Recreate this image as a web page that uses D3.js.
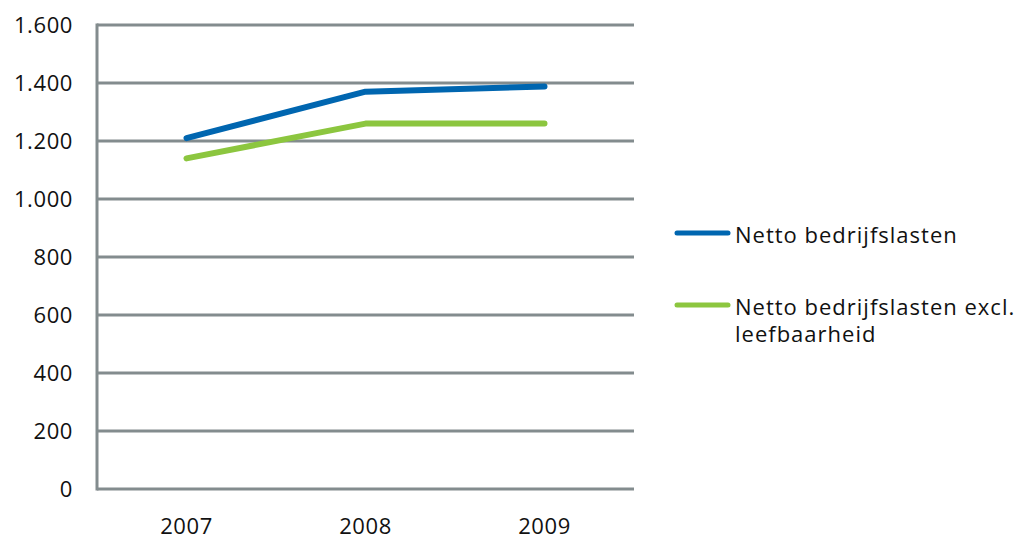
<!DOCTYPE html>
<html>
<head>
<meta charset="utf-8">
<script src="https://cdn.jsdelivr.net/npm/d3@7"></script>
<style>
  body { margin: 0; background: #fff; }
  text { font-family: "Open Sans", sans-serif; fill: #111; }
</style>
</head>
<body>
<svg id="chart" width="1016" height="537"></svg>
<script>
const years = ["2007", "2008", "2009"];
const nettoBedrijfslasten = [1210, 1370, 1388];
const nettoExclLeefbaarheid = [1140, 1260, 1260];
const yTicks = [0, 200, 400, 600, 800, 1000, 1200, 1400, 1600];
const seriesColors = ["#0066b0", "#8cc63f"];

const margin = { top: 25, right: 382, bottom: 48, left: 97 };
const width = 1016 - margin.left - margin.right;
const height = 537 - margin.top - margin.bottom;
const gridColor = "#838c8e";

const svg = d3.select("#chart");
const g = svg.append("g").attr("transform", `translate(${margin.left},${margin.top})`);

const x = d3.scaleBand().domain(years).range([0, width]);
const y = d3.scaleLinear().domain([0, 1600]).range([height, 0]);

// gridlines
g.append("g")
    .selectAll("line")
    .data(yTicks)
    .enter().append("line")
    .attr("x1", 0)
    .attr("x2", width)
    .attr("y1", d => y(d))
    .attr("y2", d => y(d))
    .attr("stroke", gridColor)
    .attr("stroke-width", 3);

// y axis line
g.append("line")
    .attr("x1", 0).attr("x2", 0)
    .attr("y1", y(1600) - 1.5).attr("y2", y(0) + 1.5)
    .attr("stroke", gridColor)
    .attr("stroke-width", 3);

// y tick labels
g.append("g")
    .selectAll("text")
    .data(yTicks)
    .enter().append("text")
    .attr("x", -24)
    .attr("y", d => y(d))
    .attr("dy", "0.36em")
    .attr("text-anchor", "end")
    .attr("font-size", 22)
    .attr("letter-spacing", 0.6)
    .text(d => d3.format(",")(d).replace(/,/g, "."));

// x labels
g.append("g")
    .selectAll("text")
    .data(years)
    .enter().append("text")
    .attr("x", d => x(d) + x.bandwidth() / 2)
    .attr("y", height + 45)
    .attr("text-anchor", "middle")
    .attr("font-size", 22)
    .attr("letter-spacing", 0.6)
    .text(d => d);

// lines
const line = d3.line()
    .x((d, i) => x(years[i]) + x.bandwidth() / 2)
    .y(d => y(d));

[nettoBedrijfslasten, nettoExclLeefbaarheid].forEach((vals, i) => {
    g.append("path")
        .datum(vals)
        .attr("d", line)
        .attr("fill", "none")
        .attr("stroke", seriesColors[i])
        .attr("stroke-width", 6)
        .attr("stroke-linecap", "round")
        .attr("stroke-linejoin", "round");
});

// legend
const legend = svg.append("g").attr("transform", "translate(677,0)");
const legendY = [233, 305];
const legendLines = [["Netto bedrijfslasten"], ["Netto bedrijfslasten excl.", "leefbaarheid"]];
legendLines.forEach((lines, i) => {
    legend.append("line")
        .attr("x1", 0).attr("x2", 51)
        .attr("y1", legendY[i]).attr("y2", legendY[i])
        .attr("stroke", seriesColors[i])
        .attr("stroke-width", 5)
        .attr("stroke-linecap", "round");
    const t = legend.append("text")
        .attr("x", 58)
        .attr("y", legendY[i] + 10)
        .attr("font-size", 22)
        .attr("letter-spacing", 1);
    lines.forEach((s, j) => {
        t.append("tspan").attr("x", 58).attr("dy", j === 0 ? 0 : 27).text(s);
    });
});
</script>
</body>
</html>
